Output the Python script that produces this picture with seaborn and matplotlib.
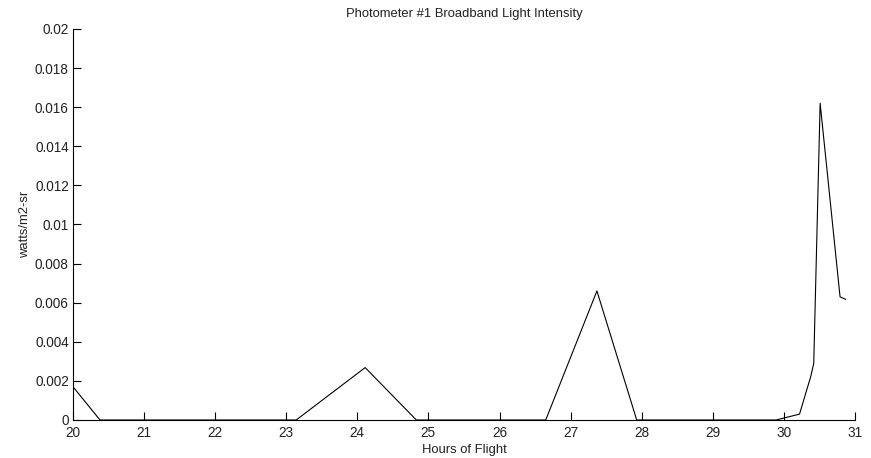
import matplotlib
matplotlib.use("Agg")
import matplotlib.pyplot as plt
import seaborn as sns
import pandas as pd

hours = [20.0, 20.38, 23.14, 24.11, 24.83, 26.65, 27.37, 27.93, 29.89, 30.0,
         30.22, 30.38, 30.42, 30.51, 30.79, 30.87]
intensity = [0.0017, 0.0, 0.0, 0.00268, 0.0, 0.0, 0.0066, 0.0, 0.0, 0.0001,
             0.0003, 0.00225, 0.0029, 0.0162, 0.0063, 0.00617]
x_ticks = list(range(20, 32))
y_ticks = [0, 0.002, 0.004, 0.006, 0.008, 0.01, 0.012, 0.014, 0.016, 0.018, 0.02]
y_tick_labels = ["0", "0.002", "0.004", "0.006", "0.008", "0.01", "0.012",
                 "0.014", "0.016", "0.018", "0.02"]

df = pd.DataFrame({"hours": hours, "intensity": intensity})

sns.set_style("ticks")
plt.rcParams["font.family"] = ["Liberation Sans", "DejaVu Sans"]
plt.rcParams["font.size"] = 9.5

fig = plt.figure(figsize=(8.71, 4.58), dpi=100)
ax = fig.add_axes([0.0838, 0.083, 0.8978, 0.8537])

sns.lineplot(data=df, x="hours", y="intensity", ax=ax, color="black",
             linewidth=0.8, sort=False, estimator=None)

ax.set_xlim(20, 31)
ax.set_ylim(0, 0.02)
ax.set_xticks(x_ticks)
ax.set_xticklabels([str(t) for t in x_ticks])
ax.set_yticks(y_ticks)
ax.set_yticklabels(y_tick_labels)
ax.tick_params(direction="in", length=5.5, width=0.8, colors="black",
               labelsize=9.8, labelcolor="#222222")
ax.tick_params(axis="x", pad=4.5)
ax.tick_params(axis="y", pad=3)
for s in ["top", "right"]:
    ax.spines[s].set_visible(False)
for s in ["left", "bottom"]:
    ax.spines[s].set_linewidth(0.8)
    ax.spines[s].set_color("black")

ax.set_xlabel("Hours of Flight", fontsize=9.4, color="#222222", labelpad=2.5)
ax.set_ylabel("watts/m2-sr", fontsize=9.4, color="#222222", labelpad=3)
ax.set_title("Photometer #1 Broadband Light Intensity", fontsize=9.4,
             color="#222222", pad=8.5)

fig.savefig("out.png", dpi=100)
